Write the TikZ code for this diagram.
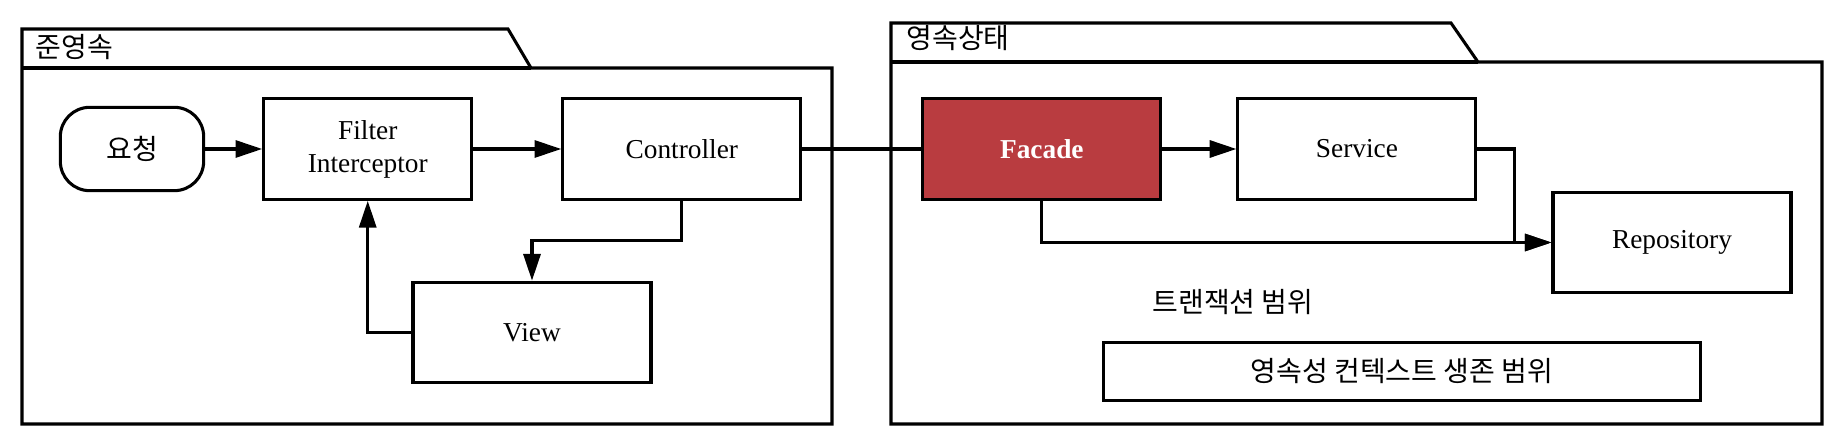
\documentclass[tikz,border=0pt]{standalone}
\usepackage{fontspec}
\setmainfont{Liberation Serif}
\newfontfamily\krfont{Noto Sans CJK KR}
\usepackage{tikz}
\usetikzlibrary{arrows.meta, positioning}
\definecolor{facadered}{RGB}{185,60,64}

\begin{document}
\begin{tikzpicture}[
    x=0.75pt, y=-0.75pt,
    line width=2.3pt,
    block/.style={rectangle, draw, minimum width=178.5pt, minimum height=75.5pt, inner sep=0pt, align=center, font=\fontsize{20.5}{24.75}\selectfont},
    terminal/.style={block, rounded corners=22pt, minimum width=107.5pt, minimum height=62.5pt, font=\krfont\fontsize{21}{24}\selectfont},
    facadebox/.style={block, fill=facadered, text=white, font=\bfseries\fontsize{20.5}{24.75}\selectfont},
    pkgtext/.style={inner sep=0pt, font=\krfont\fontsize{21}{24}\selectfont},
    arrow/.style={-{Triangle[length=20pt, width=12.75pt]}}
]
\useasboundingbox (0,0) rectangle (1832,434);

% Packages
\draw (22,29) -- (508,29) -- (531,68) -- (832,68) -- (832,424) -- (22,424) -- cycle;
\draw (22,68) -- (531,68);
\node[pkgtext, anchor=west] (detached) at (34,47) {준영속};

\draw (891,23) -- (1451,23) -- (1478,62) -- (1822,62) -- (1822,424) -- (891,424) -- cycle;
\draw (891,62) -- (1478,62);
\node[pkgtext, anchor=west] (managed) at (905,38.5) {영속상태};

% Web layer
\node[terminal] (request) at (132,149) {요청};
\node[block, minimum width=156pt, right=42.75pt of request] (filter) {Filter\\Interceptor};
\node[block, right=66pt of filter] (controller) {Controller};
\node[block] (view) at (532,332.5) {View};

% Persistence layer
\node[facadebox, right=89.25pt of controller] (facade) {Facade};
\node[block, right=55.5pt of facade] (service) {Service};
\node[block] (repo) at (1672,242.5) {Repository};

% Scopes
\node[pkgtext] (txscope) at (1233,302.5) {트랜잭션 범위};
\node[block, minimum width=448pt, minimum height=44pt, font=\krfont\fontsize{21}{24}\selectfont] (pcscope) at (1402,371.5) {영속성 컨텍스트 생존 범위};

% Arrows
\draw[arrow] (request) -- (filter);
\draw[arrow] (filter) -- (controller);
\draw[arrow] (controller.south) -- ++(0,40) -| (view.north);
\draw[arrow] (view.west) -| (filter.south);
\draw (controller) -- (facade);
\draw[arrow] (facade) -- (service);
\draw[arrow] (service.east) -- ++(37,0) |- (repo.west);
\draw[arrow] (facade.south) |- (repo.west);

\end{tikzpicture}
\end{document}
